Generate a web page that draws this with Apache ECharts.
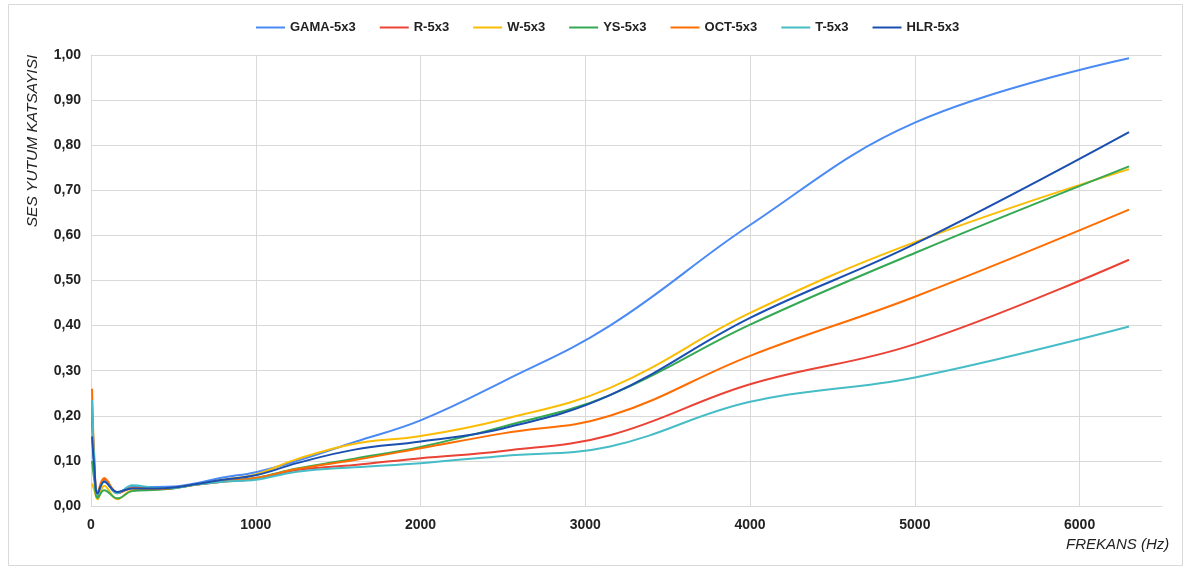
<!DOCTYPE html>
<html>
<head>
<meta charset="utf-8">
<script src="https://cdn.jsdelivr.net/npm/echarts@6/dist/echarts.min.js"></script>
<style>
html,body{margin:0;padding:0;background:#fff;}
#c{width:1189px;height:570px;}
</style>
</head>
<body>
<div id="c"></div>
<script>
const freqs = [6.3, 20, 40, 80, 160, 250, 400, 500, 630, 800, 1000, 1250, 1600, 2000, 2500, 3150, 4000, 5000, 6300];
const seriesNames = ['GAMA-5x3', 'R-5x3', 'W-5x3', 'YS-5x3', 'OCT-5x3', 'T-5x3', 'HLR-5x3'];
const gama = [0.20, 0.08, 0.025, 0.055, 0.030, 0.042, 0.042, 0.043, 0.050, 0.063, 0.075, 0.100, 0.142, 0.190, 0.276, 0.400, 0.623, 0.850, 0.993];
const r    = [0.22, 0.09, 0.020, 0.058, 0.028, 0.040, 0.038, 0.040, 0.047, 0.054, 0.060, 0.080, 0.091, 0.106, 0.122, 0.157, 0.270, 0.359, 0.546];
const w    = [0.05, 0.035, 0.015, 0.045, 0.015, 0.035, 0.037, 0.040, 0.047, 0.058, 0.070, 0.104, 0.138, 0.155, 0.192, 0.262, 0.428, 0.585, 0.747];
const ys   = [0.10, 0.058, 0.018, 0.035, 0.017, 0.033, 0.036, 0.039, 0.047, 0.055, 0.062, 0.083, 0.105, 0.131, 0.176, 0.246, 0.402, 0.561, 0.753];
const oct  = [0.26, 0.11, 0.030, 0.062, 0.030, 0.040, 0.038, 0.040, 0.047, 0.055, 0.062, 0.082, 0.102, 0.128, 0.161, 0.200, 0.333, 0.464, 0.657];
const t    = [0.235, 0.10, 0.025, 0.055, 0.028, 0.046, 0.040, 0.040, 0.047, 0.054, 0.058, 0.076, 0.086, 0.095, 0.111, 0.132, 0.231, 0.285, 0.398];
const hlr  = [0.154, 0.087, 0.028, 0.054, 0.031, 0.039, 0.039, 0.041, 0.048, 0.058, 0.068, 0.095, 0.125, 0.143, 0.172, 0.246, 0.417, 0.581, 0.829];
const allValues = [gama, r, w, ys, oct, t, hlr];
const colors = ['#4a8af4', '#ea4335', '#fbbc04', '#34a853', '#ff6d01', '#46bdc6', '#1a4fb0'];
const yAxisTitle = 'SES YUTUM KATSAYISI';
const xAxisTitle = 'FREKANS (Hz)';

const FONT = '"Liberation Sans", Arial, sans-serif';
const chart = echarts.init(document.getElementById('c'), null, {renderer: 'canvas'});

const series = seriesNames.map((name, i) => ({
  name: name,
  type: 'line',
  smooth: 0.4,
  showSymbol: false,
  symbol: 'none',
  lineStyle: {width: 2, color: colors[i]},
  itemStyle: {color: colors[i]},
  data: freqs.map((f, j) => [f, allValues[i][j]])
}));

chart.setOption({
  animation: false,
  backgroundColor: '#ffffff',
  color: colors,
  textStyle: {fontFamily: FONT},
  legend: {
    top: 16,
    left: 251,
    itemWidth: 29,
    itemHeight: 2,
    itemGap: 24,
    icon: 'rect',
    textStyle: {fontFamily: FONT, fontWeight: 'bold', fontSize: 13, color: '#222'},
    data: seriesNames
  },
  grid: {left: 91, right: 27, top: 55, bottom: 64, containLabel: false},
  xAxis: {
    type: 'value',
    min: 0, max: 6500, interval: 1000,
    axisLine: {show: true, lineStyle: {color: '#d9d9d9', width: 1}},
    axisTick: {show: false},
    axisLabel: {showMaxLabel: false, fontFamily: FONT, fontWeight: 'bold', fontSize: 14, color: '#222', margin: 12,
      formatter: v => String(v)},
    splitLine: {show: true, showMaxLine: false, lineStyle: {color: '#d9d9d9', width: 1}}
  },
  yAxis: {
    type: 'value',
    min: 0, max: 1, interval: 0.1,
    axisLine: {show: true, lineStyle: {color: '#d9d9d9', width: 1}},
    axisTick: {show: false},
    axisLabel: {
      fontFamily: FONT, fontWeight: 'bold', fontSize: 14, color: '#222', margin: 10,
      formatter: v => v.toFixed(2).replace('.', ',')
    },
    splitLine: {show: true, lineStyle: {color: '#d9d9d9', width: 1}}
  },
  graphic: [
    {type: 'rect', silent: true, shape: {x: 8.5, y: 4.5, width: 1174, height: 561},
     style: {fill: 'none', stroke: '#d9d9d9', lineWidth: 1}, z: -1},
    {type: 'text', left: 1066, top: 537,
     style: {text: xAxisTitle, font: 'italic 15px ' + FONT, fill: '#222'}},
    {type: 'text', x: 33, y: 141, rotation: Math.PI / 2,
     style: {text: yAxisTitle, font: 'italic 15.5px ' + FONT, fill: '#222', align: 'center', verticalAlign: 'middle'}}
  ],
  series: series
});
</script>
</body>
</html>
